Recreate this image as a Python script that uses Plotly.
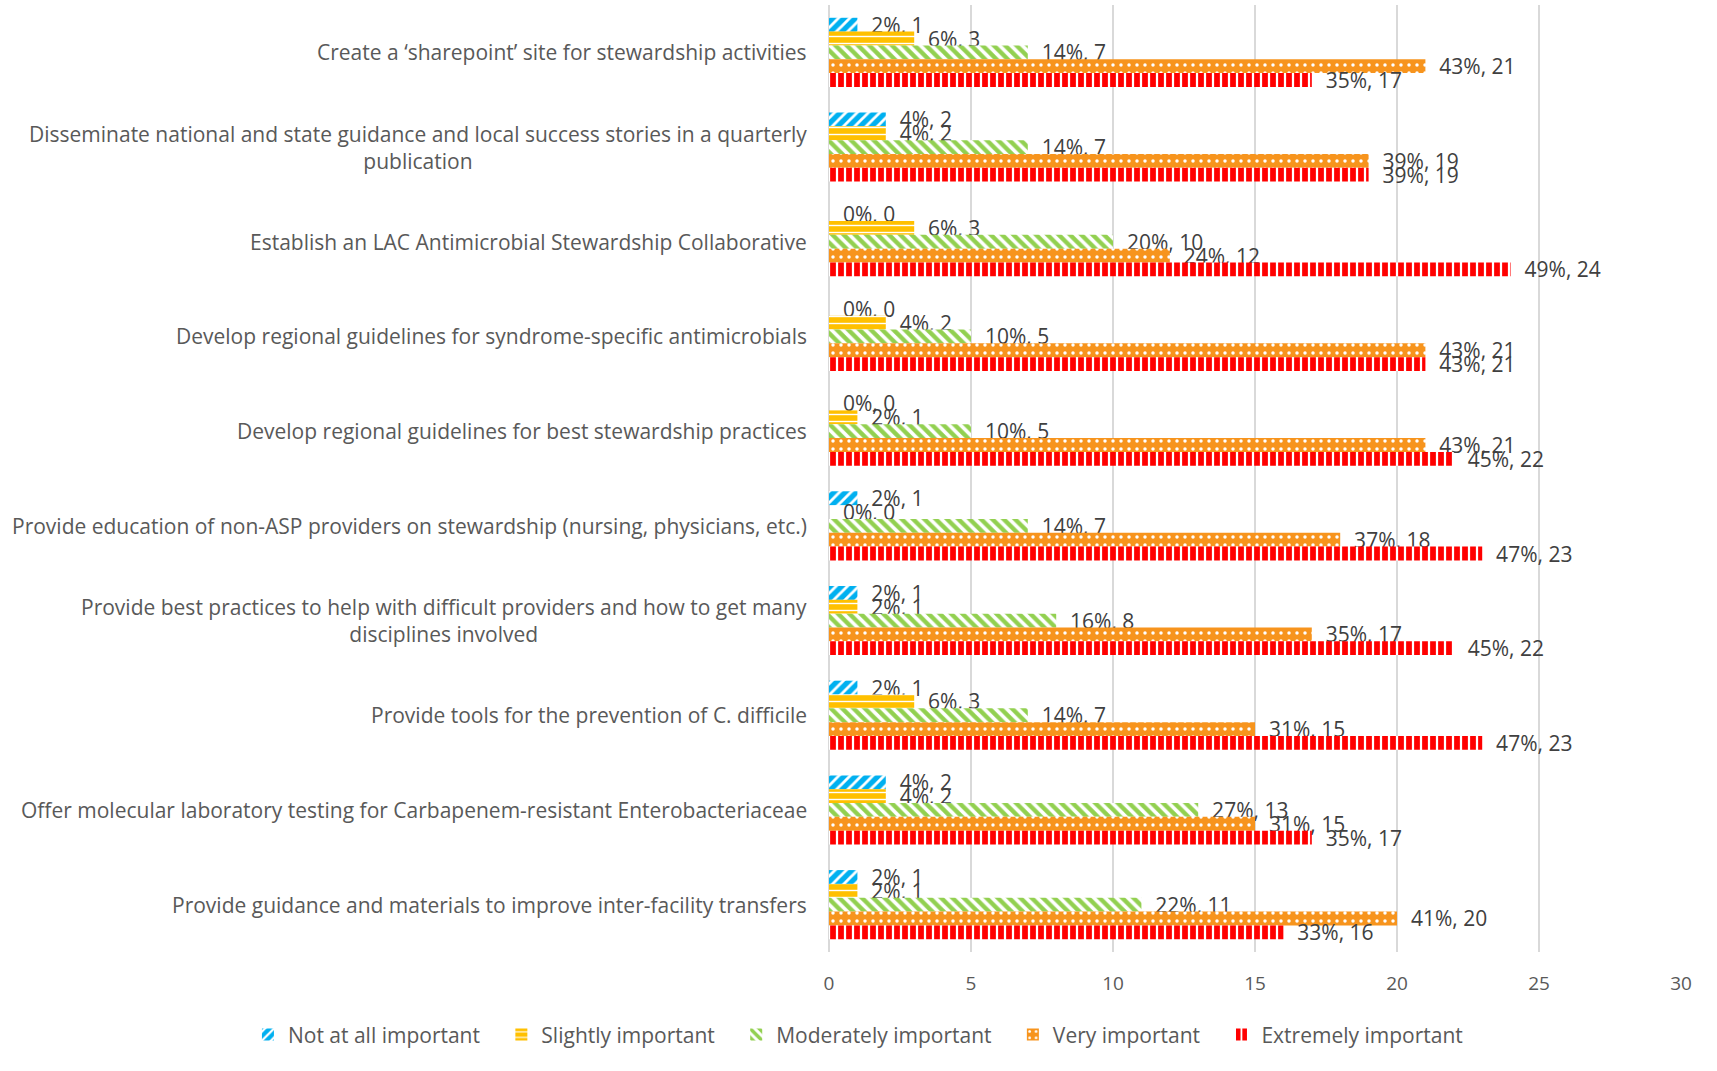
import plotly.graph_objects as go

categories = [
    "Create a ‘sharepoint’ site for stewardship activities",
    "Disseminate national and state guidance and local success stories in a quarterly<br>publication",
    "Establish an LAC Antimicrobial Stewardship Collaborative",
    "Develop regional guidelines for syndrome-specific antimicrobials",
    "Develop regional guidelines for best stewardship practices",
    "Provide education of non-ASP providers on stewardship (nursing, physicians, etc.)",
    "Provide best practices to help with difficult providers and how to get many<br>disciplines involved",
    "Provide tools for the prevention of C. difficile",
    "Offer molecular laboratory testing for Carbapenem-resistant Enterobacteriaceae",
    "Provide guidance and materials to improve inter-facility transfers",
]

series_names = ["Not at all important", "Slightly important", "Moderately important",
                "Very important", "Extremely important"]

not_at_all = [1, 2, 0, 0, 0, 1, 1, 1, 2, 1]
slightly = [3, 2, 3, 2, 1, 0, 1, 3, 2, 1]
moderately = [7, 7, 10, 5, 5, 7, 8, 7, 13, 11]
very = [21, 19, 12, 21, 21, 18, 17, 15, 15, 20]
extremely = [17, 19, 24, 21, 22, 23, 22, 23, 17, 16]

pct_not_at_all = [2, 4, 0, 0, 0, 2, 2, 2, 4, 2]
pct_slightly = [6, 4, 6, 4, 2, 0, 2, 6, 4, 2]
pct_moderately = [14, 14, 20, 10, 10, 14, 16, 14, 27, 22]
pct_very = [43, 39, 24, 43, 43, 37, 35, 31, 31, 41]
pct_extremely = [35, 39, 49, 43, 45, 47, 45, 47, 35, 33]

x_ticks = [0, 5, 10, 15, 20, 25, 30]

values = [not_at_all, slightly, moderately, very, extremely]
pcts = [pct_not_at_all, pct_slightly, pct_moderately, pct_very, pct_extremely]

styles = [
    dict(shape="/", bg="#00B0F0", fg="#FFFFFF", size=8, solidity=0.35),
    dict(shape="-", bg="#FFC000", fg="#FFFFFF", size=7, solidity=0.2),
    dict(shape="\\", bg="#FFFFFF", fg="#92D050", size=8, solidity=0.55),
    dict(shape=".", bg="#F7941D", fg="#FFFFFF", size=8, solidity=0.15),
    dict(shape="|", bg="#FFFFFF", fg="#FF0000", size=8, solidity=0.72),
]

FONT = "Open Sans"
NB = "\u00a0\u00a0"
LEG_PAD = "\u00a0\u00a0\u00a0"

fig = go.Figure()
for name, vals, pc, st in zip(series_names, values, pcts, styles):
    fig.add_trace(go.Bar(
        name=name + LEG_PAD,
        y=categories,
        x=vals,
        orientation="h",
        text=[f"{NB}{p}%, {v}" for p, v in zip(pc, vals)],
        textposition="outside",
        constraintext="none",
        cliponaxis=False,
        textfont=dict(family=FONT, size=21, color="#404040"),
        marker=dict(
            color=st["bg"],
            line=dict(width=0),
            pattern=dict(shape=st["shape"], bgcolor=st["bg"], fgcolor=st["fg"],
                         size=st["size"], solidity=st["solidity"], fillmode="replace"),
        ),
    ))

for c in categories:
    fig.add_annotation(
        x=0, xref="paper", y=c, yref="y",
        text=c, showarrow=False, xanchor="right", yanchor="middle",
        align="center", xshift=-20,
        font=dict(family=FONT, size=21, color="#595959"),
    )

fig.update_layout(
    width=1717, height=1071,
    margin=dict(l=829, r=36, t=5, b=119),
    plot_bgcolor="white", paper_bgcolor="white",
    barmode="group", bargap=0.27, bargroupgap=0,
    showlegend=True,
    legend=dict(
        orientation="h", xref="paper", yref="paper",
        x=-0.682, xanchor="left", y=-0.0876, yanchor="middle",
        font=dict(family=FONT, size=21, color="#595959"),
        itemwidth=30, traceorder="normal",
    ),
    xaxis=dict(
        range=[0, 30], tickvals=x_ticks, ticktext=[str(t) for t in x_ticks],
        showgrid=True, gridcolor="#D9D9D9", gridwidth=2,
        zeroline=True, zerolinecolor="#D9D9D9", zerolinewidth=2,
        showline=False, ticks="", ticklabelstandoff=18,
        tickfont=dict(family=FONT, size=19, color="#595959"),
    ),
    yaxis=dict(
        autorange="reversed", showticklabels=False, showgrid=False,
        zeroline=False, showline=False, ticks="",
    ),
)

fig.write_html("out.html", config={"displayModeBar": False},
               post_script="document.body.style.margin='0';")
